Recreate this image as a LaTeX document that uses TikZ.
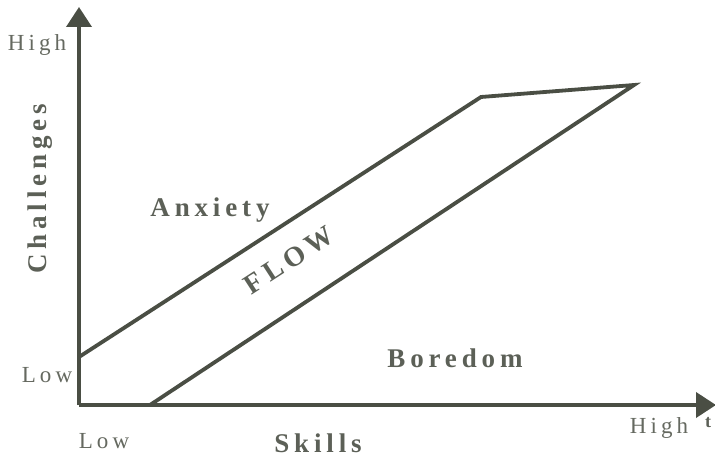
\documentclass[tikz,border=0pt]{standalone}
\usepackage{fontspec}
\setmainfont{Liberation Serif}
\newfontfamily\spacedfont[LetterSpace=18]{Liberation Serif}
\usetikzlibrary{arrows.meta}
\definecolor{inkgray}{HTML}{4A4E44}
\tikzset{
  axis/.style={line width=1.9pt,inkgray,-{Triangle[length=10pt,width=12.5pt]}},
  band/.style={line width=1.9pt,inkgray,line join=miter},
  ticklab/.style={text=inkgray!85,font=\spacedfont\fontsize{11.5}{13}\selectfont,inner sep=0pt},
  zonelab/.style={text=inkgray!90,font=\spacedfont\bfseries\fontsize{13.5}{15}\selectfont,inner sep=0pt}
}
\begin{document}
\begin{tikzpicture}[x=0.5pt,y=-0.5pt]
    \useasboundingbox (0,0) rectangle (715,459);
    \coordinate (O) at (79,405);
    \coordinate (Ytip) at (79,7);
    \coordinate (Xtip) at (716,405);
    \coordinate (A) at (79,357);
    \coordinate (B) at (481,97);
    \coordinate (C) at (634,85);
    \coordinate (D) at (150,405);

    \node[ticklab] (yhigh) at (37,45){High};
    \node[ticklab] (ylow) at (47,375){Low};
    \node[ticklab] (xlow) at (104,441){Low};
    \node[ticklab] (xhigh) at (659,428){High};
    \node[zonelab,font=\bfseries\fontsize{9}{10}\selectfont] (t) at (708,423){t};
    \node[zonelab,rotate=90] (challenges) at (40,189){Challenges};
    \node[zonelab] (skills) at (318,443){Skills};
    \node[zonelab] (anxiety) at (210,210){Anxiety};
    \node[zonelab,rotate=33,font=\spacedfont\bfseries\fontsize{14}{15}\selectfont] (flow) at (289,260){FLOW};
    \node[zonelab] (boredom) at (455,358){Boredom};

    \draw[band] (A) -- (B) -- (C) -- (D);
    \draw[axis] (O) -- (Ytip);
    \draw[axis] (O) -- (Xtip);
  \end{tikzpicture}
\end{document}
